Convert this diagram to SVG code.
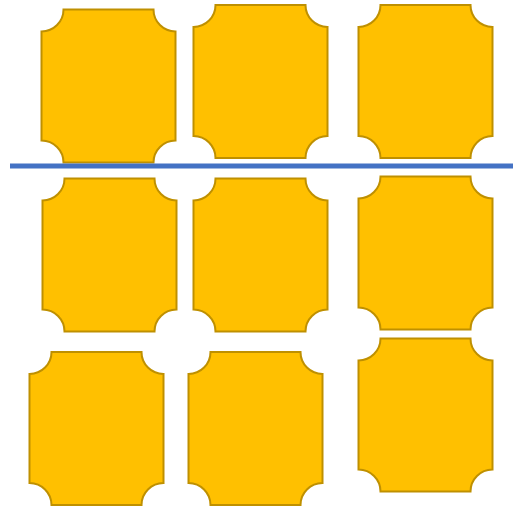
<svg xmlns="http://www.w3.org/2000/svg" xmlns:xlink="http://www.w3.org/1999/xlink" width="517" height="511" viewBox="0 0 517 511">
<style>
.plaque{fill:#FFC000;stroke:#BF9000;stroke-width:2}
.divider{stroke:#4472C4;stroke-width:5;fill:none}
</style>
<defs>
<path id="pl" d="M22,0 H112 A22,22 0 0 0 134,22 V131 A22,22 0 0 0 112,153 H22 A22,22 0 0 0 0,131 V22 A22,22 0 0 0 22,0 Z"/>
</defs>
<rect width="517" height="511" fill="#FFFFFF"/>
<g id="node1"><use xlink:href="#pl" href="#pl" class="plaque" x="41.5" y="9.5"/></g>
<g id="node2"><use xlink:href="#pl" href="#pl" class="plaque" x="193.5" y="5"/></g>
<g id="node3"><use xlink:href="#pl" href="#pl" class="plaque" x="358.5" y="5"/></g>
<g id="node4"><use xlink:href="#pl" href="#pl" class="plaque" x="42.5" y="178.5"/></g>
<g id="node5"><use xlink:href="#pl" href="#pl" class="plaque" x="193.5" y="178.5"/></g>
<g id="node6"><use xlink:href="#pl" href="#pl" class="plaque" x="358.5" y="176.5"/></g>
<g id="node7"><use xlink:href="#pl" href="#pl" class="plaque" x="29.5" y="352"/></g>
<g id="node8"><use xlink:href="#pl" href="#pl" class="plaque" x="188.5" y="352"/></g>
<g id="node9"><use xlink:href="#pl" href="#pl" class="plaque" x="358.5" y="338.5"/></g>
<g id="connectors">
<line class="divider" x1="10" y1="166" x2="513" y2="166"/>
</g>
</svg>
